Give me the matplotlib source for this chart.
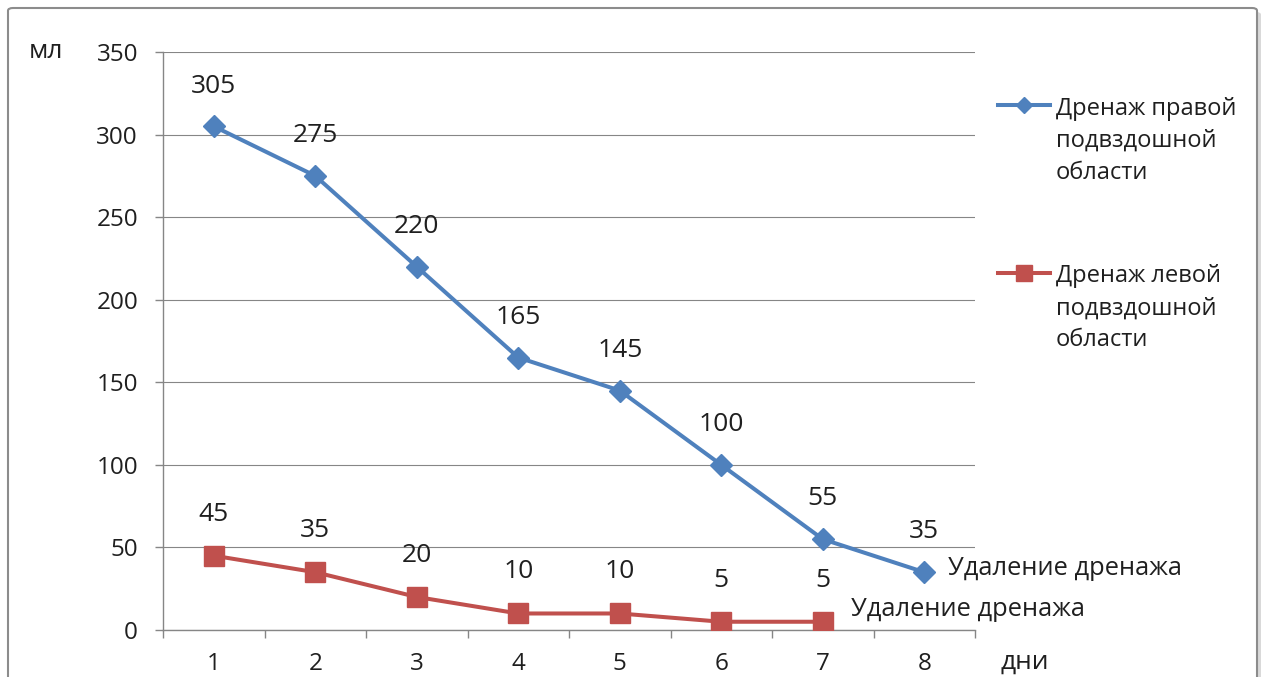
import matplotlib
matplotlib.use("Agg")
from matplotlib import pyplot as plt
from matplotlib.patches import FancyBboxPatch
from matplotlib.ticker import MultipleLocator, FixedLocator

plt.rcParams['font.family'] = ['Open Sans', 'DejaVu Sans']

days = [1, 2, 3, 4, 5, 6, 7, 8]
rightDrain = [305, 275, 220, 165, 145, 100, 55, 35]
leftDrain = [45, 35, 20, 10, 10, 5, 5]
rightLabel = "Дренаж правой\nподвздошной\nобласти"
leftLabel = "Дренаж левой\nподвздошной\nобласти"
removalText = "Удаление дренажа"

blue = '#4F81BD'
red = '#C0504D'
grey = '#868686'
txt = '#1f1f1f'

fig = plt.figure(figsize=(12.62, 6.77), dpi=100)
fig.patch.set_facecolor('white')

# chart frame with a soft shadow
shadow = FancyBboxPatch((12 / 1262, -0.05), 1249 / 1262, 1.05 - 12 / 677,
                        boxstyle="round,pad=0,rounding_size=0.004",
                        transform=fig.transFigure, fc='#d9d9d9', ec='none', zorder=-2)
frame = FancyBboxPatch((8 / 1262, -0.05), 1249 / 1262, 1.05 - 8 / 677,
                       boxstyle="round,pad=0,rounding_size=0.004",
                       transform=fig.transFigure, fc='white', ec='#8c8c8c', lw=1.5, zorder=-1)
fig.patches.extend([shadow, frame])

ax = fig.add_axes([163 / 1262, 1 - 630 / 677, 812 / 1262, 578 / 677])
ax.set_facecolor('none')
ax.set_zorder(1)

l1, = ax.plot(days, rightDrain, color=blue, lw=2.9, marker='D', ms=11.5, label=rightLabel, zorder=3)
l2, = ax.plot(days[:len(leftDrain)], leftDrain, color=red, lw=2.9, marker='s', ms=15,
              label=leftLabel, zorder=3)

for x, y in zip(days, rightDrain):
    ax.annotate(str(y), (x, y), xytext=(0, 29), textcoords='offset points',
                ha='center', va='center', fontsize=19, color=txt)
for x, y in zip(days, leftDrain):
    ax.annotate(str(y), (x, y), xytext=(0, 30), textcoords='offset points',
                ha='center', va='center', fontsize=19, color=txt)

ax.annotate(removalText, (days[-1], rightDrain[-1]), xytext=(17, 3), textcoords='offset points',
            ha='left', va='center', fontsize=18.4, color=txt, annotation_clip=False)
ax.annotate(removalText, (days[len(leftDrain) - 1], leftDrain[-1]), xytext=(20, 9),
            textcoords='offset points', ha='left', va='center', fontsize=18.4, color=txt,
            annotation_clip=False)

ax.set_xlim(0.5, 8.5)
ax.set_ylim(0, 350)
ax.yaxis.set_major_locator(MultipleLocator(50))
ax.xaxis.set_major_locator(FixedLocator(days))
ax.xaxis.set_minor_locator(FixedLocator([d - 0.5 for d in days] + [days[-1] + 0.5]))
ax.tick_params(axis='x', which='major', length=0, pad=16, labelsize=17.5, labelcolor=txt)
ax.tick_params(axis='x', which='minor', length=6, width=1, color=grey, direction='out')
ax.tick_params(axis='y', length=6, width=1, color=grey, pad=12, labelsize=17.5, labelcolor=txt)
ax.grid(axis='y', color=grey, lw=0.8)
ax.set_axisbelow(True)
for s in ['top', 'right']:
    ax.spines[s].set_visible(False)
for s in ['left', 'bottom']:
    ax.spines[s].set_color(grey)
    ax.spines[s].set_linewidth(1)

fig.text(46 / 1262, 1 - 52 / 677, "мл", ha='center', va='center', fontsize=19, color=txt)
fig.text(1025 / 1262, 1 - 662 / 677, "дни", ha='center', va='center', fontsize=19, color=txt)

leg = ax.legend(handles=[l1, l2], loc='upper left', bbox_to_anchor=(998 / 1262, 1 - 97 / 677),
                bbox_transform=fig.transFigure, frameon=False, fontsize=17, labelcolor=txt,
                handlelength=2.2, handletextpad=0.25, labelspacing=3.35, numpoints=1,
                markerscale=0.75, borderpad=0, borderaxespad=0)
for t in leg.get_texts():
    t.set_linespacing(1.45)
for col in leg._legend_handle_box.get_children():
    for item in col.get_children():
        item.align = 'top'

fig.savefig('out.png', dpi=100)
